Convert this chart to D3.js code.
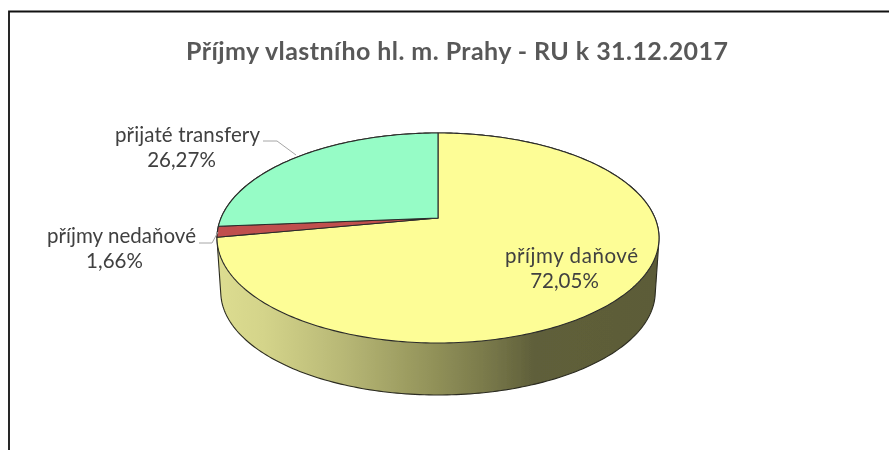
<!DOCTYPE html>
<html><head><meta charset="utf-8">
<script src="https://cdn.jsdelivr.net/npm/d3@7"></script>
<style>html,body{margin:0;padding:0;background:#fff;overflow:hidden}svg{display:block}text{font-family:Lato,"Open Sans",sans-serif;fill:#404040}</style>
</head><body><svg id="c" width="889" height="450"></svg>
<script>
const titleText = "Příjmy vlastního hl. m. Prahy - RU k 31.12.2017";
const categories = ["příjmy daňové", "příjmy nedaňové", "přijaté transfery"];
const values = [72.05, 1.66, 26.27];
const valueLabels = ["72,05%", "1,66%", "26,27%"];
const sliceColors = ["#fdfd96", "#c0504d", "#96fcc6"];

const svg = d3.select("#c");
const defs = svg.append("defs");
const soft = defs.append("filter").attr("id","soft").attr("x","-5%").attr("y","-5%").attr("width","110%").attr("height","110%");
soft.append("feGaussianBlur").attr("stdDeviation",0.45);
const softT = defs.append("filter").attr("id","softT").attr("x","-5%").attr("y","-20%").attr("width","110%").attr("height","140%");
softT.append("feGaussianBlur").attr("stdDeviation",0.35);
const wallStops = [[0,"#dcdc90"],[0.1,"#d4d48a"],[0.28,"#b8b876"],[0.48,"#93935a"],[0.62,"#777749"],[0.72,"#5f5f3a"],[1,"#5c5c38"]];
const grad = defs.append("linearGradient").attr("id","wall").attr("gradientUnits","userSpaceOnUse")
  .attr("x1",220).attr("x2",657).attr("y1",0).attr("y2",0);
grad.selectAll("stop").data(wallStops).join("stop").attr("offset",d=>d[0]).attr("stop-color",d=>d[1]);

// frame: only top and left edges are visible
svg.append("path").attr("d","M9,450V11.5H889").attr("fill","none").attr("stroke","#111").attr("stroke-width",1.8);

// perspective projection of the unit disc
const cx = 438, apexY = 218, farY = 133, nearY = 343, halfW = 221, depthBottom = 395, bottomScale = 0.983;
const c = (2*apexY - (nearY+farY)) / (nearY-farY);
const a = nearY*(1+c) - apexY - apexY*c;
const K = halfW*Math.sqrt(1-c*c);
function project(theta, r, level){
  const u = r*Math.sin(theta), v = -r*Math.cos(theta), w = 1 + c*v;
  const s = level ? bottomScale : 1;
  const dy = level ? depthBottom - apexY - bottomScale*(nearY-apexY) : 0;
  return [cx + s*K*u/w, apexY + s*a*v/w + dy];
}
const pieGen = d3.pie().sort(null).value(d=>d);
const arcs = pieGen(values);
const line = d3.line();
const full = d3.range(0, 2*Math.PI, Math.PI/180);
const hull = d3.polygonHull(full.map(t=>project(t,1,0)).concat(full.map(t=>project(t,1,1))));

const g = svg.append("g").attr("filter","url(#soft)");
g.append("path").attr("d",line(hull)+"Z").attr("fill","url(#wall)").attr("stroke","#2c2c20").attr("stroke-width",1.1);
g.selectAll("path.slice").data(arcs).join("path").attr("class","slice")
 .attr("d",d=>{
   const n = Math.max(4,Math.ceil((d.endAngle-d.startAngle)/(Math.PI/180)));
   const pts = d3.range(n+1).map(i=>project(d.startAngle+(d.endAngle-d.startAngle)*i/n,1,0));
   return line([project(0,0,0),...pts])+"Z";
 })
 .attr("fill",(d,i)=>sliceColors[i]).attr("stroke","#2b2b2b").attr("stroke-width",1.1).attr("stroke-linejoin","round");

// leader lines
const leaders = [[[263,141],[277,141],[296,155]],[[199,243],[212,243],[218,232]]];
svg.append("g").selectAll("path").data(leaders).join("path").attr("d",d=>line(d))
  .attr("fill","none").attr("stroke","#a6a6a6").attr("stroke-width",1);

const tg = svg.append("g").attr("filter","url(#softT)");
tg.append("text").attr("x",457).attr("y",60).attr("text-anchor","middle")
  .attr("font-size",25).attr("font-weight",700).attr("textLength",542).attr("lengthAdjust","spacing").style("fill","#595959").text(titleText);
const labelPos = [[571.5,263,288,133],[121.5,243,268,149],[187.5,142,167,145]];
categories.forEach((name,i)=>{
  const [x,y1,y2,w]=labelPos[i];
  tg.append("text").attr("x",x).attr("y",y1).attr("text-anchor","middle").attr("font-size",20.5).attr("textLength",w).attr("lengthAdjust","spacing").text(name);
  tg.append("text").attr("x",x-(i==0?7:i==1?7:6)).attr("y",y2).attr("text-anchor","middle").attr("font-size",20.5).text(valueLabels[i]);
});
</script></body></html>
